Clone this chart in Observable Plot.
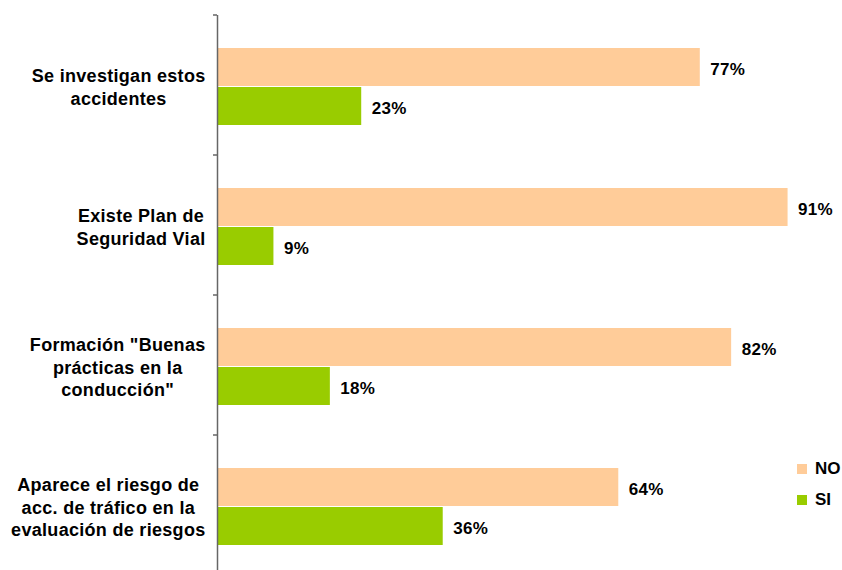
<!DOCTYPE html>
<html><head><meta charset="utf-8">
<script src="https://cdn.jsdelivr.net/npm/d3@7"></script>
<script src="https://cdn.jsdelivr.net/npm/@observablehq/plot@0.6"></script>
<style>
body{margin:0;background:#fff;font-family:"Liberation Sans",Arial,sans-serif;}
#wrap{position:relative;width:842px;height:570px;overflow:hidden;background:#fff}
#wrap svg text{letter-spacing:0.3px}
.row{position:absolute;left:797px;display:flex;align-items:center;height:20px;font-weight:bold;font-size:17px;color:#000}
.sw{width:10px;height:10px;margin-right:8px}
</style></head><body><div id="wrap"></div>
<script>
const categories = ["c1","c2","c3","c4"];
const categoryLabels = [
  "Se investigan estos\naccidentes",
  "Existe Plan de\nSeguridad Vial",
  "Formación \"Buenas\nprácticas en la\nconducción\"",
  "Aparece el riesgo de\nacc. de tráfico en la\nevaluación de riesgos"
];
const series = ["NO","SI"];
const noValues = [77,91,82,64];
const siValues = [23,9,18,36];
const colors = ["#FFCC99","#99CC00"];

const data = categories.flatMap((c,i)=>[
  {cat:c, serie:"NO", value:noValues[i]},
  {cat:c, serie:"SI", value:siValues[i]}
]);

const FONT = "Liberation Sans, Arial, sans-serif";
const labelSize = 18;
const ls = 0.3;
const ctx = document.createElement("canvas").getContext("2d");
ctx.font = `bold ${labelSize}px "Liberation Sans", Arial`;
function blockWidth(t){ return Math.max(...t.split("\n").map(l=>ctx.measureText(l).width + l.length*ls)); }

const labelMarks = categories.map((c,i)=>Plot.text([c],{
  fy:d=>d, text:()=>categoryLabels[i], frameAnchor:"left", textAnchor:"middle", lineAnchor:"middle",
  lineHeight:1.24, fontSize:labelSize, fontWeight:"bold", fill:"#000",
  dx: -(12 + blockWidth(categoryLabels[i])/2), dy: 1
}));

const plot = Plot.plot({
  width:842, height:570, marginLeft:217, marginRight:0, marginTop:15, marginBottom:-5,
  style:{fontFamily:FONT, background:"#fff", overflow:"visible"},
  x:{domain:[0,100], range:[217,844], axis:null},
  fy:{domain:categories, padding:0, axis:null},
  y:{domain:series, paddingInner:0.02, paddingOuter:0.78, align:0.53, axis:null},
  color:{domain:series, range:colors},
  marks:[
    Plot.barX(data,{x:"value", y:"serie", fy:"cat", fill:"serie"}),
    Plot.ruleX([0],{stroke:"#666", strokeWidth:1.5}),
    Plot.text(data,{x:"value", y:"serie", fy:"cat", text:d=>d.value+"%", dx:10, dy:2, textAnchor:"start",
      fontWeight:"bold", fontSize:17, fill:"#000"}),
    ...labelMarks
  ]
});
const wrap = document.getElementById("wrap");
wrap.appendChild(plot);

// category separator ticks at band boundaries, from the fy scale
const fy = plot.scale("fy");
const xs = plot.scale("x");
const x0 = xs.apply(0);
const bounds = categories.map(c=>fy.apply(c));
bounds.push(fy.apply(categories[categories.length-1]) + fy.bandwidth);
const svg = d3.select(plot);
svg.append("g").selectAll("line").data(bounds).join("line")
  .attr("x1", x0-4).attr("x2", x0).attr("y1", d=>d).attr("y2", d=>d)
  .attr("stroke","#666").attr("stroke-width",1.5);

series.forEach((s,i)=>{
  const r = document.createElement("div");
  r.className="row"; r.style.top = (459 + i*31) + "px";
  r.innerHTML = `<div class="sw" style="background:${colors[i]}"></div><span>${s}</span>`;
  wrap.appendChild(r);
});
</script>
</body></html>
